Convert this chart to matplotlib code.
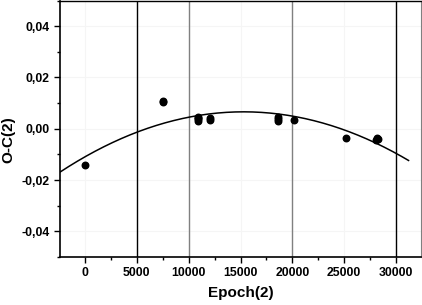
import numpy as np
import matplotlib
matplotlib.use("Agg")
import matplotlib.pyplot as plt
from matplotlib.ticker import MultipleLocator, FuncFormatter

# Data
epoch = [0, 7500, 7520, 10880, 10900, 10920, 10900, 12070, 12090,
         18600, 18620, 18610, 20200, 25130, 28050, 28200, 28300]
oc = [-0.0140, 0.0110, 0.0106, 0.0030, 0.0038, 0.0046, 0.0042, 0.0036, 0.0042,
      0.0030, 0.0038, 0.0046, 0.0035, -0.0038, -0.0042, -0.0038, -0.0040]

# quadratic fit coefficients (c0, c1, c2)
fit_coeffs = [-0.01096, 2.295e-6, -7.5e-11]
fit_range = [-2400, 31200]

vlines_black = [5000, 30000]
vlines_gray = [10000, 20000]

plt.rcParams['font.family'] = ['Liberation Sans', 'DejaVu Sans']

fig = plt.figure(figsize=(4.22, 3.05), dpi=100)
ax = fig.add_axes([60/422, 48/305, 361/422, 256.5/305])

ax.set_xlim(-2400, 32400)
ax.set_ylim(-0.05, 0.05)

ax.grid(True, color='#f5f5f5', linewidth=0.8)
ax.set_axisbelow(True)

for v in vlines_black:
    ax.axvline(v, color='black', linewidth=1.0)
for v in vlines_gray:
    ax.axvline(v, color='#808080', linewidth=1.0)

xf = np.linspace(fit_range[0], fit_range[1], 200)
yf = fit_coeffs[0] + fit_coeffs[1]*xf + fit_coeffs[2]*xf**2
ax.plot(xf, yf, color='black', linewidth=1.1)

ax.scatter(epoch, oc, s=22, color='black', zorder=3)

ax.xaxis.set_major_locator(MultipleLocator(5000))
ax.xaxis.set_minor_locator(MultipleLocator(2500))
ax.yaxis.set_major_locator(MultipleLocator(0.02))
ax.yaxis.set_minor_locator(MultipleLocator(0.01))
ax.yaxis.set_major_formatter(FuncFormatter(lambda v, p: f"{v:.2f}".replace('.', ',').replace('-0,00', '0,00')))

ax.tick_params(which='major', direction='out', length=4.5, width=1, labelsize=8.8, pad=3)
ax.tick_params(which='minor', direction='out', length=2.5, width=1)
for lbl in ax.get_xticklabels() + ax.get_yticklabels():
    lbl.set_fontweight('bold')

ax.spines['left'].set_linewidth(1.2)
ax.spines['bottom'].set_linewidth(1.2)
ax.spines['top'].set_linewidth(1.0)
ax.spines['right'].set_color('#808080')

ax.set_xlabel('Epoch(2)', fontsize=11, fontweight='bold', labelpad=5)
ax.set_ylabel('O-C(2)', fontsize=11, fontweight='bold')
ax.yaxis.set_label_coords(-0.123, 0.459)

fig.savefig('out.png', dpi=100)
